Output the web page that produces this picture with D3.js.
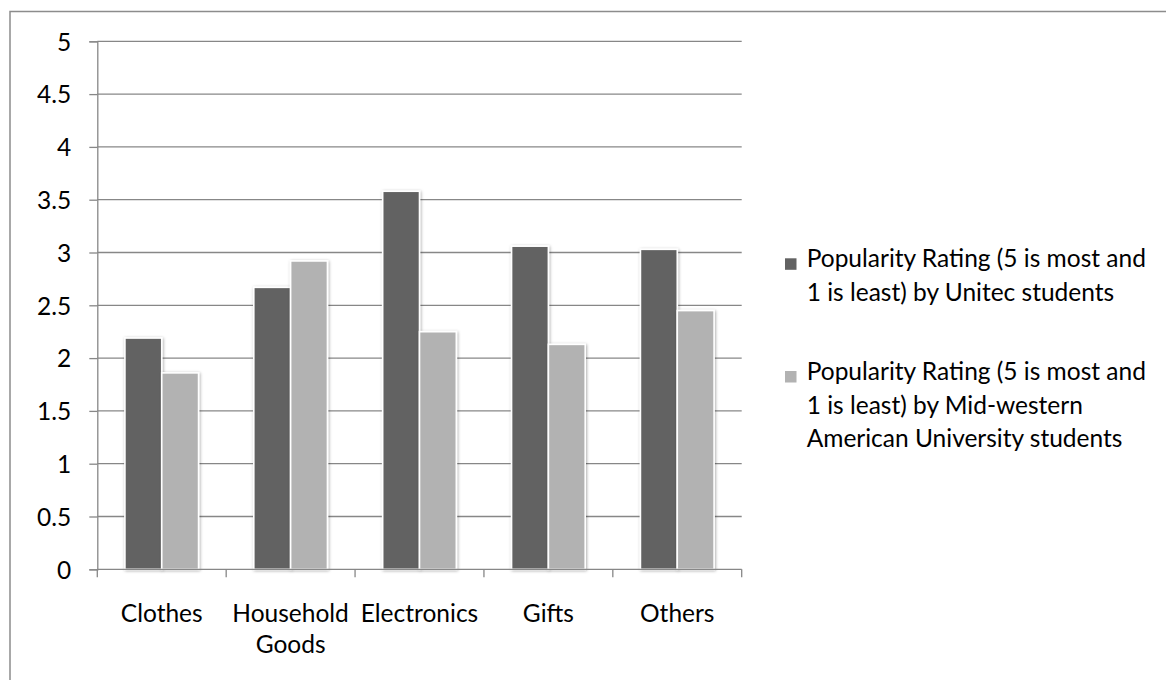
<!DOCTYPE html>
<html>
<head>
<meta charset="utf-8">
<script src="https://cdn.jsdelivr.net/npm/d3@7"></script>
<style>
  html, body { margin: 0; padding: 0; background: #fff; }
  svg { display: block; }
  text { font-family: Lato, "Liberation Sans", sans-serif; fill: #000; }
</style>
</head>
<body>
<svg id="chart" width="1166" height="680"></svg>
<script>
// Product categories along the x axis
const categories = ["Clothes", "Household Goods", "Electronics", "Gifts", "Others"];

// Series labels (legend text, one entry per line)
const seriesKeys = ["unitec", "midwest"];
const seriesLegendLines = [
  ["Popularity Rating (5 is most and", "1 is least) by Unitec students"],
  ["Popularity Rating (5 is most and", "1 is least) by Mid-western", "American University students"]
];
const seriesColors = ["#626262", "#b2b2b2"];

// Popularity ratings per category
const unitecValues  = [2.19, 2.67, 3.58, 3.06, 3.03];
const midwestValues = [1.86, 2.92, 2.25, 2.13, 2.45];

// Y axis ticks
const yTicks = [0, 0.5, 1, 1.5, 2, 2.5, 3, 3.5, 4, 4.5, 5];

const seriesValues = [unitecValues, midwestValues];
const rows = categories.map((c, i) => ({
  category: c,
  values: seriesKeys.map((k, s) => ({ key: k, s, value: seriesValues[s][i] }))
}));

const svg = d3.select("#chart");
const FONT = 24.5;
const gridColor = "#878787";

// Outer frame
svg.append("rect")
  .attr("x", 10).attr("y", 11.5)
  .attr("width", 1200).attr("height", 700)
  .attr("fill", "none").attr("stroke", "#8c8c8c").attr("stroke-width", 1.5);

// Plot area
const plot = { left: 97.3, right: 741.7, top: 41.3, bottom: 569.3 };

const x0 = d3.scaleBand().domain(categories).range([plot.left, plot.right]).paddingInner(0).paddingOuter(0);
const x1 = d3.scaleBand().domain(seriesKeys).range([0, x0.bandwidth()]).paddingInner(0).paddingOuter(0.75);
const y = d3.scaleLinear().domain([0, 5]).range([plot.bottom, plot.top]);

// Soft shadow under bars
const defs = svg.append("defs");
const f = defs.append("filter").attr("id", "barShadow")
  .attr("x", "-30%").attr("y", "-10%").attr("width", "160%").attr("height", "120%");
f.append("feDropShadow").attr("dx", 0.8).attr("dy", 0.8)
  .attr("stdDeviation", 1.6).attr("flood-color", "#000").attr("flood-opacity", 0.35);

// Horizontal gridlines
svg.append("g")
  .selectAll("line")
  .data(yTicks.filter(t => t > 0))
  .join("line")
  .attr("x1", plot.left).attr("x2", plot.right)
  .attr("y1", d => y(d)).attr("y2", d => y(d))
  .attr("stroke", gridColor).attr("stroke-width", 1.3);

// Y axis
const yAxis = d3.axisLeft(y).tickValues(yTicks).tickSize(8).tickPadding(18)
  .tickFormat(d => String(d));
const gy = svg.append("g").attr("transform", `translate(${plot.left},0)`).call(yAxis);
gy.select(".domain").attr("stroke", gridColor).attr("stroke-width", 1.3);
gy.selectAll(".tick line").attr("stroke", gridColor).attr("stroke-width", 1.3);
gy.selectAll(".tick text")
  .style("font-family", "Lato, 'Liberation Sans', sans-serif")
  .style("font-size", FONT + "px").attr("fill", "#000").attr("dy", "0.36em");

// Bars
const groups = svg.append("g").selectAll("g")
  .data(rows)
  .join("g")
  .attr("transform", d => `translate(${x0(d.category)},0)`);

groups.selectAll("rect")
  .data(d => d.values)
  .join("rect")
  .attr("x", d => x1(d.key))
  .attr("width", x1.bandwidth())
  .attr("y", d => y(d.value))
  .attr("height", d => y(0) - y(d.value))
  .attr("fill", d => seriesColors[d.s])
  .attr("stroke", "#fff")
  .attr("stroke-width", 1.6)
  .attr("filter", "url(#barShadow)");

// X axis with ticks at category boundaries
const xAxisG = svg.append("g");
xAxisG.append("line")
  .attr("x1", plot.left).attr("x2", plot.right)
  .attr("y1", plot.bottom).attr("y2", plot.bottom)
  .attr("stroke", gridColor).attr("stroke-width", 1.3);
const boundaries = categories.map(c => x0(c)).concat([x0(categories[categories.length - 1]) + x0.bandwidth()]);
xAxisG.selectAll("line.tick")
  .data(boundaries)
  .join("line")
  .attr("class", "tick")
  .attr("x1", d => d).attr("x2", d => d)
  .attr("y1", plot.bottom).attr("y2", plot.bottom + 8)
  .attr("stroke", gridColor).attr("stroke-width", 1.3);

// Category labels, wrapped to the band width
const labels = xAxisG.selectAll("text")
  .data(categories)
  .join("text")
  .attr("x", d => x0(d) + x0.bandwidth() / 2)
  .attr("y", plot.bottom + 52.4)
  .attr("text-anchor", "middle")
  .style("font-size", FONT + "px");

labels.each(function (d) {
  const t = d3.select(this);
  const words = d.split(" ");
  const maxW = x0.bandwidth() - 4;
  let line = [];
  let lines = [];
  const probe = t.append("tspan");
  words.forEach(w => {
    const test = line.concat([w]).join(" ");
    probe.text(test);
    if (probe.node().getComputedTextLength() > maxW && line.length) {
      lines.push(line.join(" "));
      line = [w];
    } else {
      line.push(w);
    }
  });
  lines.push(line.join(" "));
  probe.remove();
  lines.forEach((ln, i) => {
    t.append("tspan")
      .attr("x", x0(d) + x0.bandwidth() / 2)
      .attr("dy", i === 0 ? 0 : 31)
      .text(ln);
  });
});

// Legend
const legendX = 785;
const legendFirstBaselines = [267.3, 380];
const legendLineHeight = 33.5;
const legend = svg.append("g").selectAll("g")
  .data(seriesLegendLines)
  .join("g")
  .attr("transform", (d, i) => `translate(${legendX},${legendFirstBaselines[i]})`);

legend.append("rect")
  .attr("x", 0).attr("y", -9)
  .attr("width", 11.5).attr("height", 11.5)
  .attr("fill", (d, i) => seriesColors[i]);

legend.append("text")
  .attr("x", 21.7)
  .attr("y", 0)
  .style("font-size", FONT + "px")
  .selectAll("tspan")
  .data(d => d)
  .join("tspan")
  .attr("x", 21.7)
  .attr("dy", (d, i) => i === 0 ? 0 : legendLineHeight)
  .text(d => d);
</script>
</body>
</html>
